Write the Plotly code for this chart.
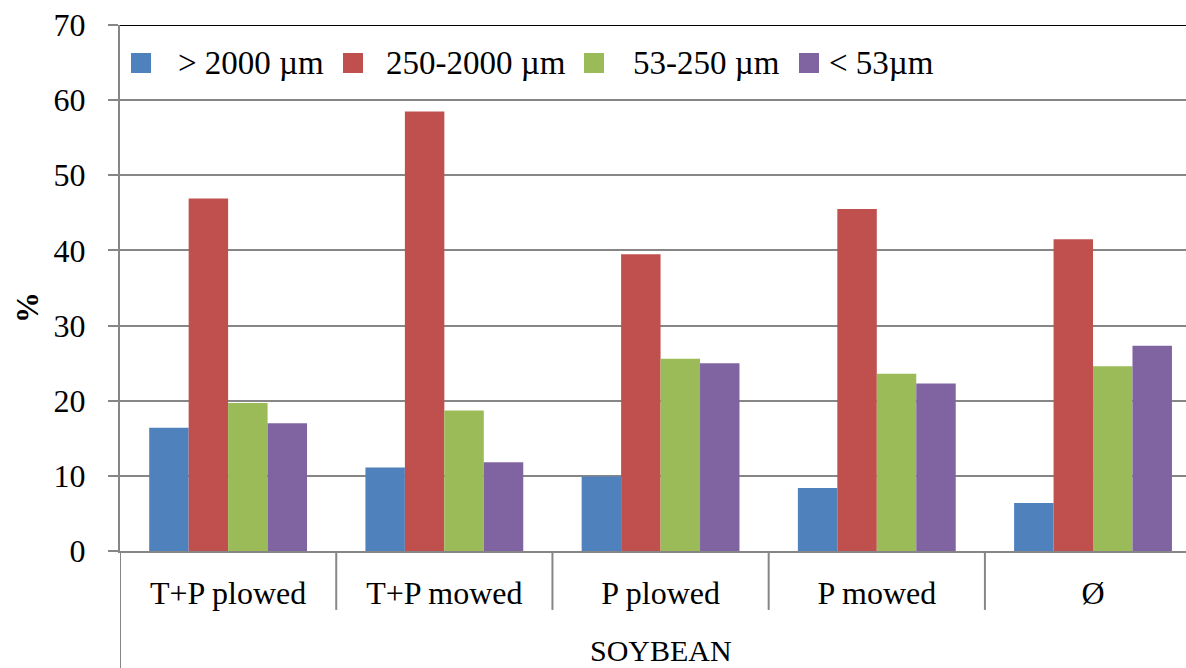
import plotly.graph_objects as go

categories = ["T+P plowed", "T+P mowed", "P plowed", "P mowed", "Ø"]
group_label = "SOYBEAN"
series_names = ["> 2000 µm", "250-2000 µm", "53-250 µm", "< 53µm"]
s_gt2000 = [16.4, 11.1, 9.9, 8.4, 6.4]
s_250_2000 = [46.9, 58.5, 39.5, 45.5, 41.5]
s_53_250 = [19.7, 18.7, 25.6, 23.6, 24.6]
s_lt53 = [17.0, 11.8, 25.0, 22.3, 27.3]
series_values = [s_gt2000, s_250_2000, s_53_250, s_lt53]
colors = ["#4F81BD", "#C0504D", "#9BBB59", "#8064A2"]
y_ticks = [0, 10, 20, 30, 40, 50, 60, 70]

FONT = "Liberation Serif, Times New Roman, serif"
GRID = "#868686"
W, H = 1186, 668
L, R, T, B = 120, 0, 25, 117
PW, PH = W - L - R, H - T - B


def px_x(p):
    return (p - L) / PW


def px_y(p):
    return (H - B - p) / PH


fig = go.Figure()
idx = list(range(len(categories)))
for name, vals, col in zip(series_names, series_values, colors):
    fig.add_trace(go.Bar(x=idx, y=vals, name=name, showlegend=False,
                         marker=dict(color=col, line=dict(width=0))))

shapes = []
shapes.append(dict(type="line", xref="paper", yref="y", x0=0, x1=1, y0=70, y1=70,
                   line=dict(color="black", width=2)))
shapes.append(dict(type="line", xref="x", yref="paper", x0=-0.5, x1=-0.5, y0=0, y1=-0.23,
                   line=dict(color=GRID, width=2)))
for i in range(len(categories) - 1):
    shapes.append(dict(type="line", xref="x", yref="paper", x0=i + 0.5, x1=i + 0.5,
                       y0=0, y1=-0.112, line=dict(color=GRID, width=2)))

annotations = [
    dict(text="<b>%</b>", xref="paper", yref="paper", x=px_x(27), y=px_y(308),
         textangle=-90, showarrow=False, font=dict(family=FONT, size=31, color="black"),
         xanchor="center", yanchor="middle"),
    dict(text=group_label, xref="x", yref="paper", x=2, y=px_y(668), showarrow=False,
         borderpad=0, font=dict(family=FONT, size=30, color="black"),
         xanchor="center", yanchor="bottom"),
]

# custom legend (inside plot, top-left)
leg_sq_left = [131, 343, 584, 799]
leg_txt_left = [177, 385, 632, 828]
leg_cy = 63
for name, col, sx, tx in zip(series_names, colors, leg_sq_left, leg_txt_left):
    shapes.append(dict(type="rect", xref="paper", yref="paper",
                       x0=px_x(sx), x1=px_x(sx + 20), y0=px_y(leg_cy + 10), y1=px_y(leg_cy - 10),
                       fillcolor=col, line=dict(width=0)))
    annotations.append(dict(text=name, xref="paper", yref="paper", x=px_x(tx), y=px_y(leg_cy),
                            showarrow=False, xanchor="left", yanchor="middle", borderpad=0,
                            font=dict(family=FONT, size=33, color="black")))

fig.update_layout(
    width=W, height=H,
    margin=dict(l=L, r=R, t=T, b=B),
    paper_bgcolor="white", plot_bgcolor="white",
    barmode="group", bargap=0.27, bargroupgap=0,
    font=dict(family=FONT, size=32, color="black"),
    showlegend=False,
    shapes=shapes,
    annotations=annotations,
    xaxis=dict(tickmode="array", tickvals=idx, ticktext=categories, range=[-0.5, 4.43],
               showgrid=False, zeroline=False, showline=True, linecolor=GRID, linewidth=2,
               ticks="", ticklabelstandoff=13, automargin=False,
               tickfont=dict(family=FONT, size=32, color="black")),
    yaxis=dict(range=[0, 70], tickvals=y_ticks, showgrid=True, gridcolor=GRID, gridwidth=2,
               zeroline=False, showline=True, linecolor=GRID, linewidth=2,
               ticks="outside", ticklen=10, tickcolor=GRID, tickwidth=2,
               ticklabelstandoff=16, automargin=False,
               tickfont=dict(family=FONT, size=32, color="black")),
)

fig.write_html("out.html")
